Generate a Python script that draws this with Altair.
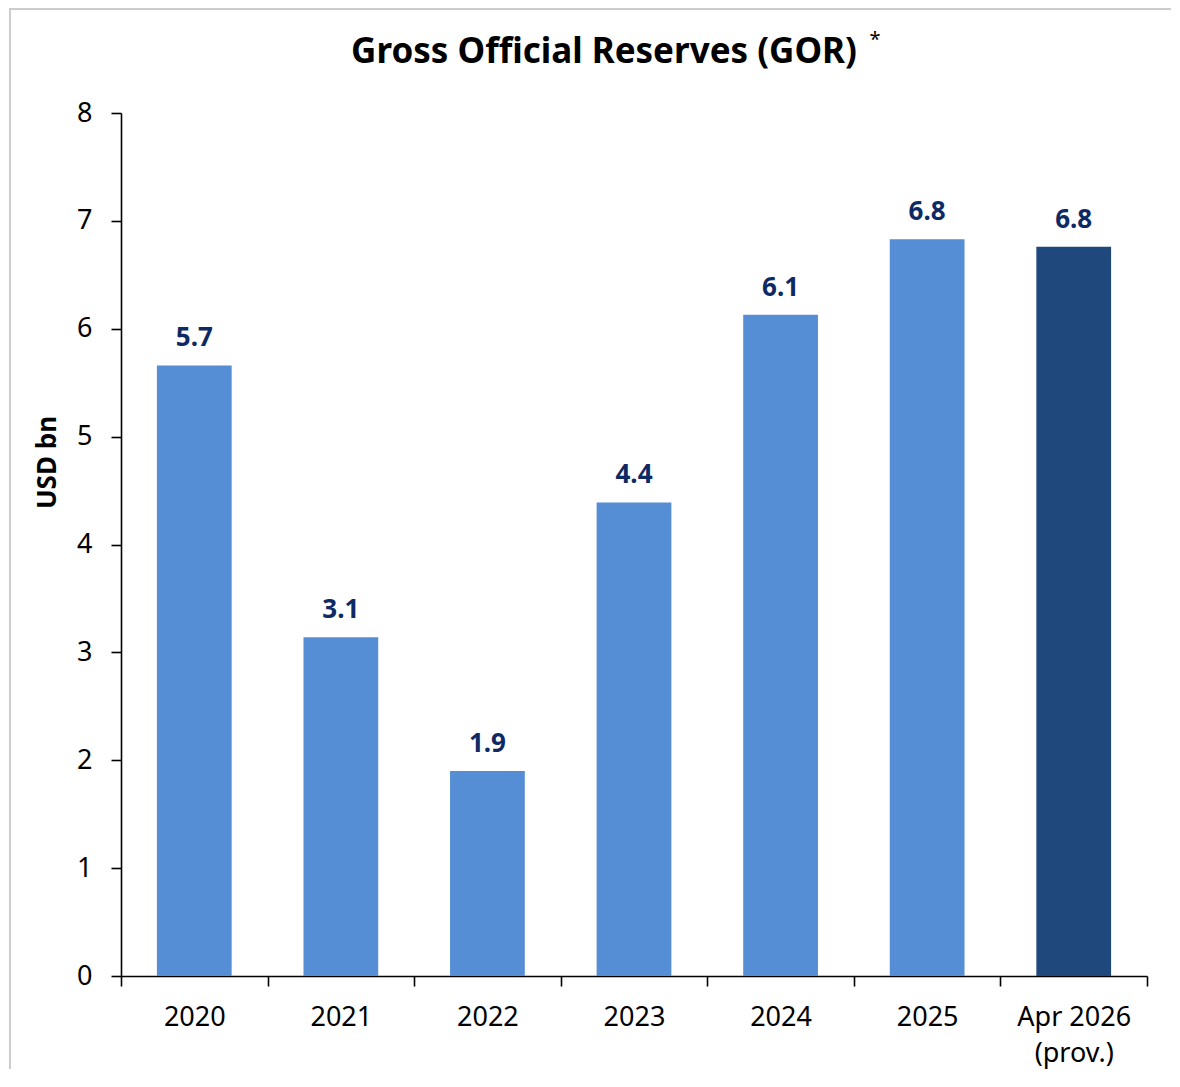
import altair as alt
import pandas as pd

categories = ["2020", "2021", "2022", "2023", "2024", "2025", "Apr 2026 (prov.)"]
values = [5.66, 3.14, 1.90, 4.39, 6.13, 6.83, 6.76]
kinds = ["Annual", "Annual", "Annual", "Annual", "Annual", "Annual", "Provisional"]
y_ticks = [0, 1, 2, 3, 4, 5, 6, 7, 8]
title_text = "Gross Official Reserves (GOR)"
y_title = "USD bn"

FONT = "Noto Sans"
W, H = 1026, 863

df = pd.DataFrame({"cat": categories, "value": values, "kind": kinds})

x_enc = alt.X(
    "cat:N",
    sort=categories,
    scale=alt.Scale(paddingInner=0, paddingOuter=0),
    axis=alt.Axis(
        title=None,
        labelAngle=0,
        tickBand="extent",
        tickSize=10,
        labelPadding=18,
        labelFontSize=27,
        labelFont=FONT,
        labelColor="#000000",
        labelLineHeight=36,
        labelExpr="datum.value == 'Apr 2026 (prov.)' ? ['Apr 2026', '(prov.)'] : datum.label",
        domainColor="#000000",
        tickColor="#000000",
        domainWidth=1.6,
        tickWidth=1.6,
    ),
)
y_enc = alt.Y(
    "value:Q",
    scale=alt.Scale(domain=[0, 8], nice=False),
    axis=alt.Axis(
        values=y_ticks,
        format="d",
        grid=False,
        title=y_title,
        titleFont=FONT,
        titleFontSize=26,
        titleFontWeight="bold",
        titleColor="#000000",
        titleX=-74,
        titleY=349,
        titleBaseline="middle",
        titleAlign="center",
        tickSize=10,
        labelPadding=19,
        labelFontSize=27,
        labelFont=FONT,
        labelColor="#000000",
        domainColor="#000000",
        tickColor="#000000",
        domainWidth=1.6,
        tickWidth=1.6,
    ),
)

bars = alt.Chart(df).mark_bar(width=alt.RelativeBandSize(0.51)).encode(
    x=x_enc,
    y=y_enc,
    color=alt.Color(
        "kind:N",
        scale=alt.Scale(domain=["Annual", "Provisional"], range=["#558ED5", "#1F497D"]),
        legend=None,
    ),
)

labels = alt.Chart(df).mark_text(
    baseline="alphabetic", dy=-19, fontSize=26, fontWeight="bold", font=FONT, color="#0D2A64"
).encode(
    x=alt.X("cat:N", sort=categories),
    y=alt.Y("value:Q"),
    text=alt.Text("value:Q", format=".1f"),
)

title_df = pd.DataFrame({"t": [title_text]})
title = alt.Chart(title_df).mark_text(
    fontSize=35, fontWeight="bold", font=FONT, color="#000000", align="center", baseline="alphabetic"
).encode(x=alt.value(483), y=alt.value(-50), text="t:N")

star_df = pd.DataFrame({"t": ["*"]})
star = alt.Chart(star_df).mark_text(
    fontSize=20, font=FONT, color="#000000", align="center", baseline="middle"
).encode(x=alt.value(754), y=alt.value(-73), text="t:N")

frame_df = pd.DataFrame({"f": [0]})
frame_left = alt.Chart(frame_df).mark_rule(color="#CCCCCC", strokeWidth=2).encode(
    x=alt.value(-111), y=alt.value(-104), y2=alt.value(956)
)
frame_top = alt.Chart(frame_df).mark_rule(color="#CCCCCC", strokeWidth=2).encode(
    x=alt.value(-112), x2=alt.value(1050), y=alt.value(-104)
)

chart = (
    alt.layer(frame_left, frame_top, bars, labels, title, star)
    .properties(width=W, height=H, padding={"left": 0, "top": 0, "right": 0, "bottom": 6})
    .configure_view(stroke=None)
)

chart.save("out.html", embed_options={"renderer": "svg", "actions": False})
